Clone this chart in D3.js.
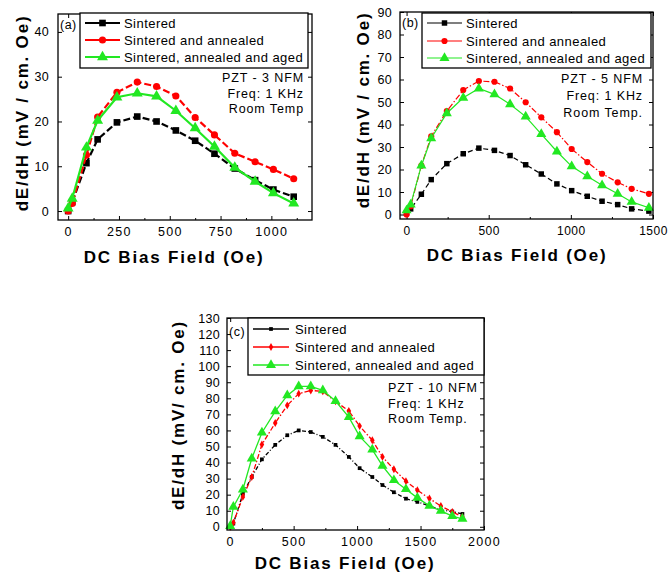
<!DOCTYPE html>
<html><head><meta charset="utf-8">
<script src="https://cdn.jsdelivr.net/npm/d3@7"></script>
<style>
body{margin:0;background:#fff;}
svg{display:block;font-family:"Liberation Sans",Arial,sans-serif;}
</style>
</head><body>
<svg id="chart" width="668" height="576"></svg>
<script>
// ---------- data ----------
const seriesNames = ["Sintered", "Sintered and annealed", "Sintered, annealed and aged"];
const seriesColors = ["#000000", "#ff0000", "#22e822"];

// Panel (a) PZT - 3 NFM
const fieldA     = [0, 20, 90, 145, 240, 340, 435, 530, 625, 720, 820, 920, 1010, 1110];
const sinteredA  = [0, 2.0, 10.7, 16.0, 19.8, 21.1, 20.0, 18.0, 15.7, 12.8, 9.5, 6.9, 4.8, 3.2];
const annealedA  = [0, 1.7, 12.5, 21.0, 26.5, 28.8, 27.8, 25.7, 20.9, 17.0, 12.9, 11.0, 9.3, 7.2];
const agedA      = [0.6, 2.8, 14.2, 20.2, 25.4, 26.3, 25.6, 22.4, 18.5, 14.4, 9.7, 6.6, 4.0, 1.7];
const xTicksA = [0, 250, 500, 750, 1000];
const yTicksA = [0, 10, 20, 30, 40];
const noteA = ["PZT - 3 NFM", "Freq: 1 KHz", "Room Temp"];

// Panel (b) PZT - 5 NFM
const fieldB     = [0, 25, 90, 150, 245, 345, 440, 535, 630, 725, 820, 915, 1005, 1100, 1190, 1285, 1370, 1475];
const sinteredB  = [0.7, 2.5, 9.0, 15.5, 22.6, 27.0, 29.5, 28.5, 26.2, 22.1, 18.0, 13.6, 10.6, 8.1, 5.9, 4.4, 2.5, 1.5];
const annealedB  = [0, 3.7, 21.7, 34.7, 46.0, 55.3, 59.3, 59.0, 56.0, 49.9, 43.2, 36.6, 29.1, 23.3, 18.1, 14.3, 11.4, 9.2];
const agedB      = [1.8, 4.4, 21.7, 33.9, 45.0, 51.9, 56.0, 53.4, 49.0, 43.5, 35.7, 28.0, 21.4, 17.0, 13.0, 9.2, 5.6, 3.0];
const xTicksB = [0, 500, 1000, 1500];
const yTicksB = [0, 10, 20, 30, 40, 50, 60, 70, 80, 90];
const noteB = ["PZT - 5 NFM", "Freq: 1 KHz", "Room Temp."];

// Panel (c) PZT - 10 NFM
const fieldC     = [0, 25, 100, 170, 250, 355, 450, 540, 635, 730, 830, 935, 1020, 1120, 1200, 1290, 1385, 1475, 1570, 1660, 1750, 1830];
const sinteredC  = [0, 2, 20.5, 31, 42, 51, 57, 60, 59, 56, 51, 43.5, 36.5, 31, 26, 21.5, 17.5, 15.5, 13, 10.5, 9.5, 8];
const annealedC  = [0, 2.5, 18.6, 31, 51.2, 64.6, 75.6, 82.9, 84.9, 84.3, 78.1, 72.1, 62.7, 53.9, 43.5, 35.8, 28.4, 22.8, 17.6, 12.9, 9.3, 6.2];
const agedC      = [0.5, 12.4, 23.2, 42.5, 58.6, 71.9, 81.8, 87.4, 87.4, 84.9, 78.3, 68.3, 56.3, 48.1, 37.9, 29.0, 23.4, 18.0, 13.0, 9.9, 6.6, 5.0];
const xTicksC = [0, 500, 1000, 1500, 2000];
const yTicksC = [0, 10, 20, 30, 40, 50, 60, 70, 80, 90, 100, 110, 120, 130];
const noteC = ["PZT - 10 NFM", "Freq: 1 KHz", "Room Temp."];

const xTitle = "DC Bias Field (Oe)";

// ---------- panels (layout options) ----------
const panels = [
  { tag: "(a)", L: 58, T: 14, R: 312, B: 220, xDom: [-50, 1200], yDom: [-2, 44],
    xTicks: xTicksA, xMinor: [125, 375, 625, 875, 1125], yTicks: yTicksA,
    field: fieldA, series: [sinteredA, annealedA, agedA],
    dash: ["7,3", "7,3", null], lw: 2.2, msz: [44, 40, 52], sym: ["square", "circle", "triangle"],
    yTitle: "dE/dH (mV / cm. Oe)", yTitleX: 22, yTitleY: 113, xTitleX: 174, xTitleY: 257,
    xPad: 7, yPad: 9, xLS: 1.3, xFS: 12.5,
    leg: { L: 80, T: 13, R: 308, B: 68, x1: 85, x2: 120, tx: 124, rows: [23, 40, 57] },
    note: noteA, noteAnchor: "end", noteX: 304, noteY: [78, 94, 109], tagX: 60, tagY: 25 },
  { tag: "(b)", L: 400, T: 12, R: 653, B: 219, xDom: [-40, 1500], yDom: [-2, 90],
    xTicks: xTicksB, xMinor: [250, 750, 1250], yTicks: yTicksB,
    field: fieldB, series: [sinteredB, annealedB, agedB],
    dash: ["5,3", "6,2,1.5,2", null], lw: 1.2, msz: [30, 30, 44], sym: ["square", "circle", "triangle"],
    yTitle: "dE/dH (mV / cm. Oe)", yTitleX: 363, yTitleY: 110, xTitleX: 517, xTitleY: 255,
    xPad: 7, yPad: 8, xLS: 0.5, xFS: 12,
    leg: { L: 422, T: 13, R: 651, B: 68, x1: 427, x2: 462, tx: 466, rows: [23, 41, 58] },
    note: noteB, noteAnchor: "end", noteX: 643, noteY: [79, 96, 113], tagX: 402, tagY: 23 },
  { tag: "(c)", L: 227, T: 318, R: 484, B: 530, xDom: [-25, 2000], yDom: [-2, 130],
    xTicks: xTicksC, xMinor: [250, 750, 1250, 1750], yTicks: yTicksC,
    field: fieldC, series: [sinteredC, annealedC, agedC],
    dash: ["4,2,1,2", "5,2,1.5,2", null], lw: 1.3, msz: [14, 18, 44], sym: ["square", "diamond", "triangle"],
    yTitle: "dE/dH (mV/ cm. Oe)", yTitleX: 178, yTitleY: 415, xTitleX: 345, xTitleY: 563,
    xPad: 7, yPad: 7, xLS: 1.3, xFS: 12.5,
    leg: { L: 248, T: 318, R: 484, B: 375, x1: 253, x2: 289, tx: 295, rows: [329, 347, 365] },
    note: noteC, noteAnchor: "start", noteX: 388, noteY: [388, 404, 419], tagX: 229, tagY: 332 }
];

const svg = d3.select("#chart");
const symMap = { square: d3.symbolSquare, circle: d3.symbolCircle, triangle: d3.symbolTriangle, diamond: d3.symbolDiamond };

panels.forEach(p => {
  const g = svg.append("g");
  const x = d3.scaleLinear().domain(p.xDom).range([p.L, p.R]);
  const y = d3.scaleLinear().domain(p.yDom).range([p.B, p.T]);

  const styleAxis = sel => {
    sel.select(".domain").remove();
    sel.selectAll("line").attr("stroke", "#000").attr("stroke-width", 1);
    sel.selectAll("text").attr("font-size", 12.5).attr("fill", "#000")
       .attr("font-family", "'Liberation Sans', Arial, sans-serif").attr("letter-spacing", 1.3);
  };

  g.append("g").attr("transform", `translate(0,${p.B})`)
    .call(d3.axisBottom(x).tickValues(p.xTicks).tickSize(-4).tickPadding(p.xPad).tickFormat(d3.format("d")))
    .call(styleAxis)
    .call(s => s.selectAll("text").attr("letter-spacing", p.xLS).attr("font-size", p.xFS));
  g.append("g").attr("transform", `translate(0,${p.B})`)
    .call(d3.axisBottom(x).tickValues(p.xMinor).tickSize(-2).tickFormat(""))
    .call(styleAxis);
  g.append("g").attr("transform", `translate(0,${p.T})`)
    .call(d3.axisTop(x).tickValues(p.xTicks).tickSize(-4).tickFormat(""))
    .call(styleAxis);
  g.append("g").attr("transform", `translate(${p.L},0)`)
    .call(d3.axisLeft(y).tickValues(p.yTicks).tickSize(-4).tickPadding(p.yPad).tickFormat(d3.format("d")))
    .call(styleAxis)
    .call(s => s.selectAll("text").attr("letter-spacing", 0.3));
  g.append("g").attr("transform", `translate(${p.R},0)`)
    .call(d3.axisRight(y).tickValues(p.yTicks).tickSize(-4).tickFormat(""))
    .call(styleAxis);

  // series
  p.series.forEach((vals, i) => {
    const pts = p.field.map((f, k) => [f, vals[k]]);
    const line = d3.line().x(d => x(d[0])).y(d => y(d[1]));
    g.append("path").datum(pts).attr("d", line).attr("fill", "none")
      .attr("stroke", seriesColors[i]).attr("stroke-width", p.lw)
      .attr("stroke-dasharray", p.dash[i]);
    g.selectAll(null).data(pts).enter().append("path")
      .attr("d", d3.symbol().type(symMap[p.sym[i]]).size(p.msz[i]))
      .attr("transform", d => `translate(${x(d[0])},${y(d[1])})`)
      .attr("fill", seriesColors[i]);
  });

  // frame
  g.append("rect").attr("x", p.L).attr("y", p.T).attr("width", p.R - p.L).attr("height", p.B - p.T)
    .attr("fill", "none").attr("stroke", "#000").attr("stroke-width", 1.3);

  // legend
  const lg = p.leg;
  g.append("rect").attr("x", lg.L).attr("y", lg.T).attr("width", lg.R - lg.L).attr("height", lg.B - lg.T)
    .attr("fill", "#fff").attr("stroke", "#000").attr("stroke-width", 1.3);
  seriesNames.forEach((name, i) => {
    const yy = lg.rows[i];
    g.append("line").attr("x1", lg.x1).attr("x2", lg.x2).attr("y1", yy).attr("y2", yy)
      .attr("stroke", seriesColors[i]).attr("stroke-width", p.lw);
    g.append("path").attr("d", d3.symbol().type(symMap[p.sym[i]]).size(p.msz[i]))
      .attr("transform", `translate(${(lg.x1 + lg.x2) / 2},${yy})`).attr("fill", seriesColors[i]);
    g.append("text").attr("x", lg.tx).attr("y", yy).attr("dy", "0.35em")
      .attr("font-size", 13).attr("letter-spacing", 0.45).text(name);
  });

  // panel tag
  g.append("text").attr("x", p.tagX).attr("y", p.tagY).attr("dy", "0.35em")
    .attr("font-size", 12.5).attr("letter-spacing", 0.5).text(p.tag);

  // notes
  p.note.forEach((t, i) => {
    g.append("text").attr("x", p.noteX).attr("y", p.noteY[i]).attr("dy", "0.35em")
      .attr("text-anchor", p.noteAnchor).attr("font-size", 12.5).attr("letter-spacing", 0.9).text(t);
  });

  // axis titles
  g.append("text").attr("x", p.xTitleX).attr("y", p.xTitleY).attr("dy", "0.35em")
    .attr("text-anchor", "middle").attr("font-weight", "bold").attr("font-size", 17)
    .attr("letter-spacing", 1.8).text(xTitle);
  g.append("text").attr("transform", `translate(${p.yTitleX},${p.yTitleY}) rotate(-90)`)
    .attr("dy", "0.35em").attr("text-anchor", "middle").attr("font-weight", "bold")
    .attr("font-size", 17).attr("letter-spacing", 1.8).text(p.yTitle);
});
</script>
</body></html>
